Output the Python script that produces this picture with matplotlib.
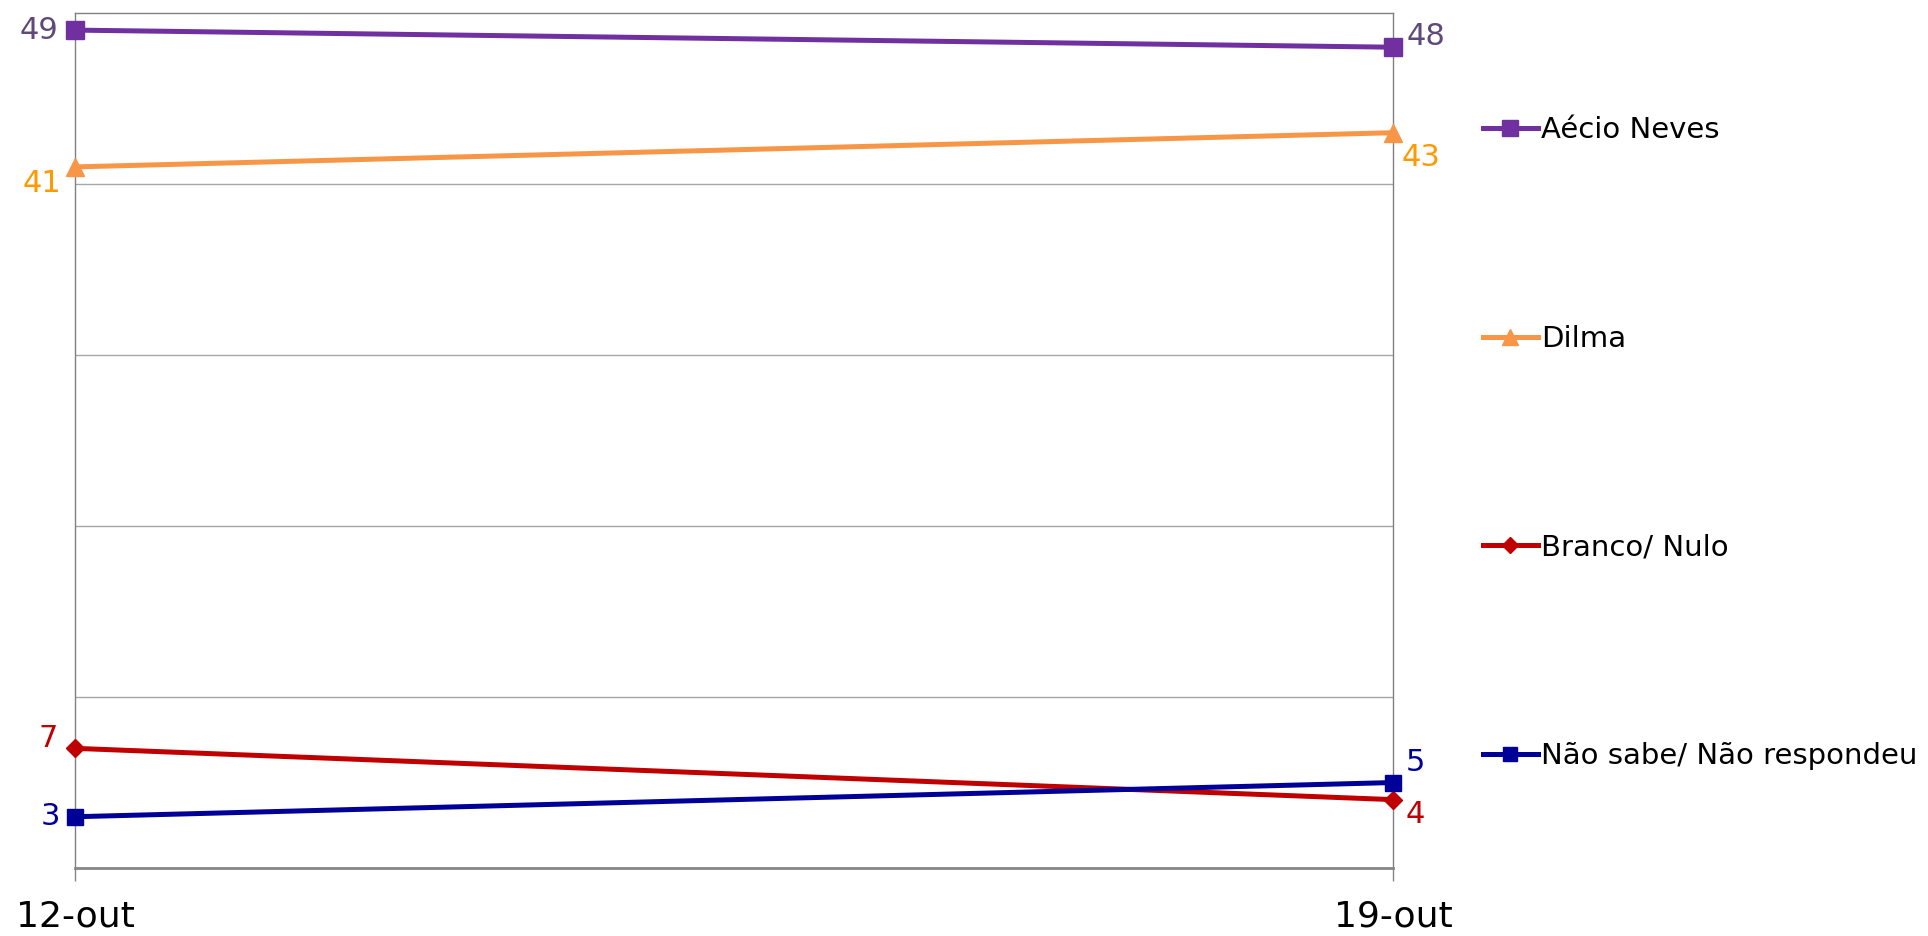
import matplotlib.pyplot as plt
from matplotlib.lines import Line2D

dates = ['12-out', '19-out']
aecio = [49, 48]
dilma = [41, 43]
branco = [7, 4]
nao_sabe = [3, 5]
names = ['Aécio Neves', 'Dilma', 'Branco/ Nulo', 'Não sabe/ Não respondeu']

plt.rcParams['font.family'] = ['DejaVu Sans']

fig = plt.figure(figsize=(19.28, 9.36), dpi=100)
ax = fig.add_axes([0.0389, 0.0726, 0.6836, 0.9135])

x = [0, 1]
series = [
    (aecio, '#7030A0', 's', 13, '#5F497A', [(-12, 0), (10, 8)]),
    (dilma, '#F79646', '^', 13, '#FF9900', [(-10, -12), (6, -18)]),
    (branco, '#C00000', 'D', 9.5, '#C00000', [(-12, 7), (9, -10.5)]),
    (nao_sabe, '#000099', 's', 12, '#000099', [(-11, 0), (9, 14.5)]),
]
handles = []
for (vals, col, mk, ms, tcol, offs), name in zip(series, names):
    ax.plot(x, vals, color=col, lw=3.6, marker=mk, markersize=ms,
            clip_on=False, zorder=3)
    for xi, v, off in zip(x, vals, offs):
        ax.annotate(str(v), (xi, v), xytext=off, textcoords='offset points',
                    ha='right' if off[0] < 0 else 'left', va='center',
                    fontsize=22, color=tcol)
    handles.append(Line2D([], [], color=col, lw=3.6, marker=mk,
                          markersize=ms * 0.85))

ax.set_xlim(0, 1)
ax.set_ylim(0, 50)
ax.set_yticks([10, 20, 30, 40])
ax.yaxis.grid(True, color='#A6A6A6', lw=1)
ax.set_axisbelow(True)
ax.tick_params(axis='y', left=False, labelleft=False)
ax.set_xticks(x)
ax.set_xticklabels(dates, fontsize=26)
ax.tick_params(axis='x', length=9, width=1, color='#868686', pad=14)
for s in ['left', 'top', 'right']:
    ax.spines[s].set_color('#808080')
    ax.spines[s].set_linewidth(1)
ax.spines['bottom'].set_color('#868686')
ax.spines['bottom'].set_linewidth(2)

fig.legend(handles, names, loc='upper left', bbox_to_anchor=(0.763, 0.888),
           frameon=False, fontsize=21, labelspacing=6.19, handlelength=1.89,
           handletextpad=0.1, borderaxespad=0)

fig.savefig('out.png', dpi=100)
